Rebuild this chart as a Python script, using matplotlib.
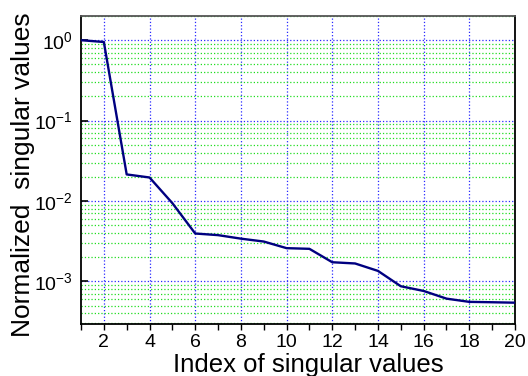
import matplotlib
matplotlib.use("Agg")
import matplotlib.pyplot as plt
from matplotlib.ticker import LogLocator, MultipleLocator, FixedLocator

plt.rcParams['font.family'] = ['Liberation Sans', 'DejaVu Sans']

index = list(range(1, 21))
values = [1.0, 0.95, 0.0214, 0.0196, 0.0094, 0.00394, 0.00376, 0.0034, 0.00313,
          0.00259, 0.00254, 0.00173, 0.00167, 0.00135, 0.00087, 0.00076,
          0.00061, 0.000556, 0.00055, 0.000543]
xticks = [2, 4, 6, 8, 10, 12, 14, 16, 18, 20]

fig = plt.figure(figsize=(5.28, 3.76), dpi=100)
ax = fig.add_axes([81/528, 1-324/376, (515-81)/528, (324-16)/376])
ax.plot(index, values, color='#000080', lw=1.7, zorder=3)
ax.set_yscale('log')
ax.set_xlim(1, 20)
ax.set_ylim(2.95e-4, 2.0)
ax.xaxis.set_major_locator(FixedLocator(xticks))
ax.xaxis.set_minor_locator(MultipleLocator(1))
ax.yaxis.set_major_locator(LogLocator(base=10, numticks=10))
ax.yaxis.set_minor_locator(LogLocator(base=10, subs=range(2, 10), numticks=20))

ax.grid(True, which='major', axis='both', color='#2828ff', linestyle=':', lw=0.9)
ax.grid(True, which='minor', axis='y', color='#20dd20', linestyle=':', lw=0.9)
ax.set_axisbelow(True)

ax.tick_params(axis='x', which='both', direction='out', length=4, width=1, labelsize=14, pad=3)
ax.tick_params(axis='y', which='major', direction='in', length=5, width=1.2, labelsize=14, pad=6)
ax.tick_params(axis='y', which='minor', length=0)

for s in ['left', 'bottom', 'right']:
    ax.spines[s].set_color('black')
    ax.spines[s].set_linewidth(1.3)
ax.spines['top'].set_color('#555555')
ax.spines['top'].set_linewidth(1.3)

ax.set_xlabel('Index of singular values', fontsize=18.5)
ax.set_ylabel('Normalized  singular values', fontsize=19)
ax.xaxis.set_label_coords(0.523, -0.094)
ax.xaxis.label.set_va('top')
ax.yaxis.set_label_coords(-0.134, 0.484)
ax.yaxis.label.set_va('center')

fig.savefig('out.png', dpi=100)
